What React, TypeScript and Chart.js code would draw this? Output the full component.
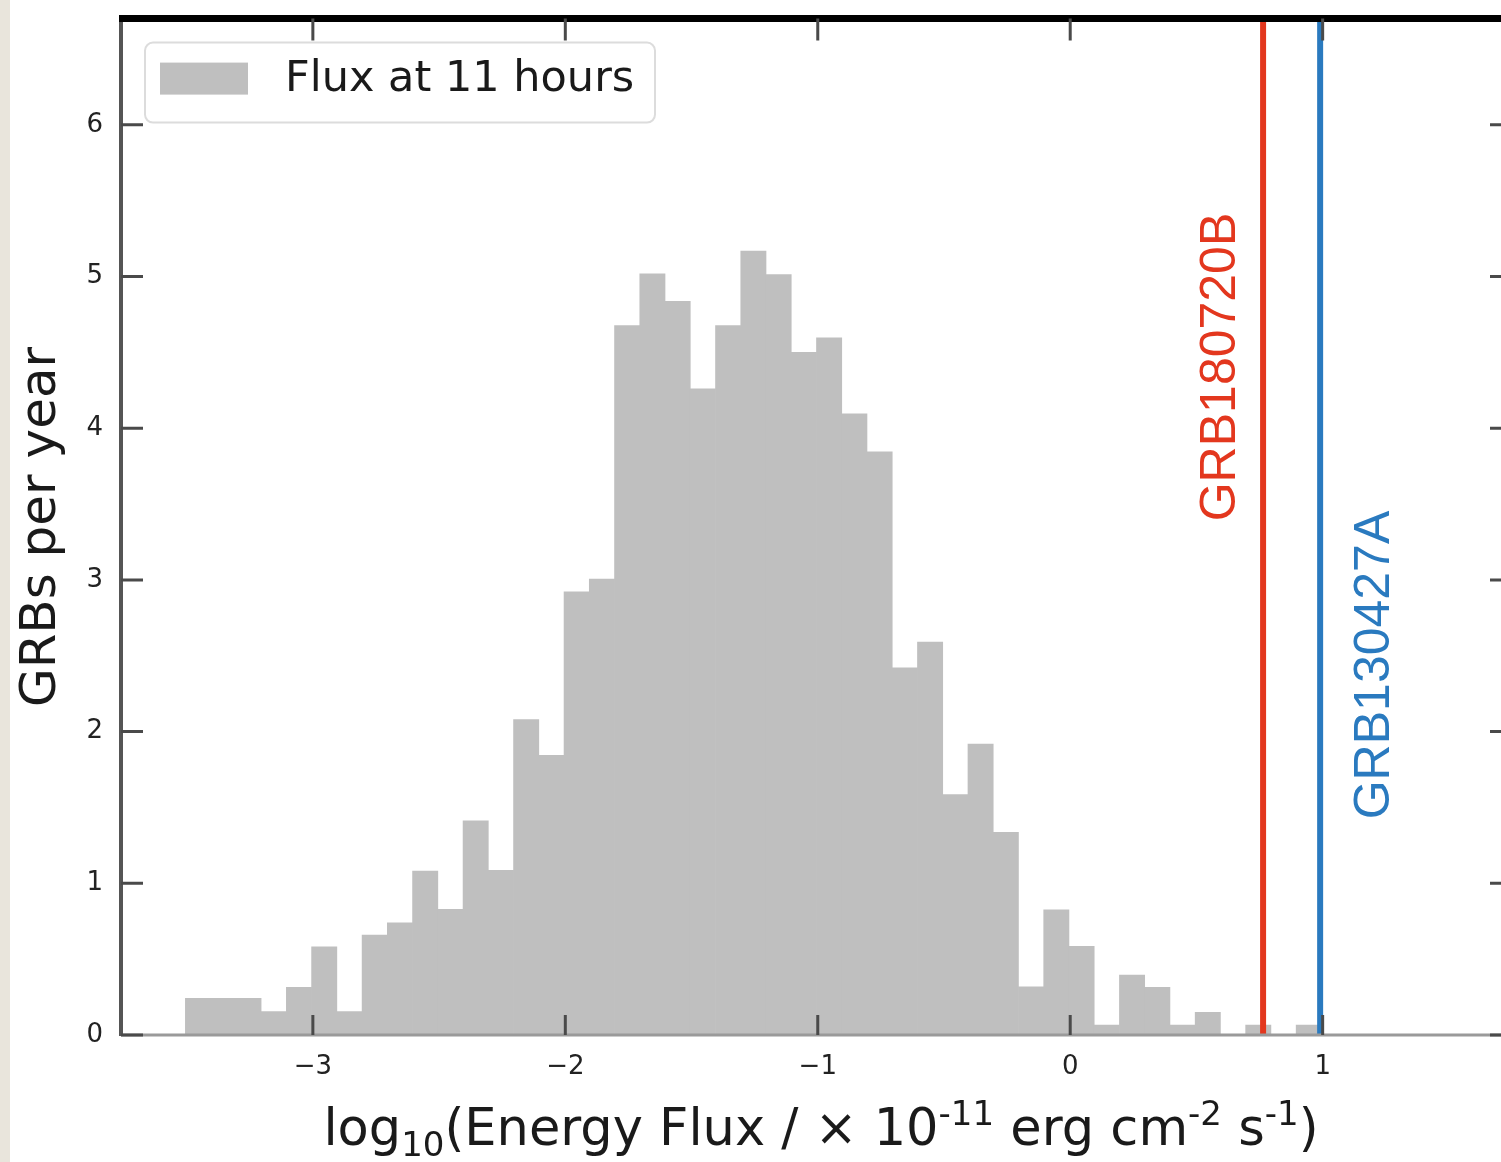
import React, { useEffect, useRef } from 'react';
import { Chart, registerables } from 'chart.js';

Chart.register(...registerables);

// Histogram bin centres (log10 energy flux, bin width 0.1)
const binCenters = [
  -3.455, -3.355, -3.255, -3.155, -3.055, -2.955, -2.855, -2.755, -2.655, -2.555,
  -2.455, -2.355, -2.255, -2.155, -2.055, -1.955, -1.855, -1.755, -1.655, -1.555,
  -1.455, -1.355, -1.255, -1.155, -1.055, -0.955, -0.855, -0.755, -0.655, -0.555,
  -0.455, -0.355, -0.255, -0.155, -0.055, 0.045, 0.145, 0.245, 0.345, 0.445,
  0.545, 0.645, 0.745, 0.845, 0.945,
];

// GRBs per year in each bin
const grbsPerYear = [
  0.242, 0.242, 0.242, 0.154, 0.314, 0.582, 0.154, 0.659, 0.740, 1.080,
  0.828, 1.412, 1.085, 2.080, 1.843, 2.921, 3.006, 4.677, 5.018, 4.837,
  4.260, 4.677, 5.167, 5.013, 4.500, 4.596, 4.095, 3.844, 2.421, 2.590,
  1.584, 1.917, 1.336, 0.318, 0.825, 0.584, 0.066, 0.395, 0.314, 0.066,
  0.150, 0.0, 0.066, 0.0, 0.066,
];

const xTickValues = [-3, -2, -1, 0, 1];
const xTickLabels = ['\u22123', '\u22122', '\u22121', '0', '1'];
const yTickValues = [0, 1, 2, 3, 4, 5, 6];
const yTickLabels = ['0', '1', '2', '3', '4', '5', '6'];

const legendLabel = 'Flux at 11 hours';
const grbNames = ['GRB180720B', 'GRB130427A'];
const grbFlux = [0.764, 0.99];
const grbColors = ['#e3371e', '#2a7abf'];

const yTitle = 'GRBs per year';

const xMin = -3.76;
const xMax = 1.75;
const yMax = 6.7;

const FONT = '"DejaVu Sans", sans-serif';

const decor = {
  id: 'decor',
  beforeDraw(chart: any) {
    const ctx = chart.ctx;
    ctx.save();
    ctx.fillStyle = '#ffffff';
    ctx.fillRect(0, 0, chart.width, chart.height);
    ctx.fillStyle = '#e9e5dc';
    ctx.fillRect(0, 0, 10, chart.height);
    ctx.restore();
  },
  afterDraw(chart: any) {
    const ctx = chart.ctx;
    const a = chart.chartArea;
    const xs = chart.scales.x;
    const ys = chart.scales.y;
    ctx.save();

    // spines
    ctx.lineCap = 'butt';
    ctx.strokeStyle = '#9a9a9a';
    ctx.lineWidth = 3;
    ctx.beginPath();
    ctx.moveTo(a.left, a.bottom);
    ctx.lineTo(a.right, a.bottom);
    ctx.stroke();

    ctx.strokeStyle = '#555';
    ctx.lineWidth = 4;
    ctx.beginPath();
    ctx.moveTo(a.left, a.top);
    ctx.lineTo(a.left, a.bottom + 1);
    ctx.stroke();

    ctx.beginPath();
    ctx.moveTo(a.right, a.top);
    ctx.lineTo(a.right, a.bottom);
    ctx.stroke();

    ctx.strokeStyle = '#000';
    ctx.lineWidth = 7;
    ctx.beginPath();
    ctx.moveTo(a.left - 2, a.top);
    ctx.lineTo(a.right, a.top);
    ctx.stroke();

    // inward ticks
    ctx.strokeStyle = '#4a4a4a';
    ctx.lineWidth = 3;
    for (const v of yTickValues) {
      const py = ys.getPixelForValue(v);
      ctx.beginPath();
      ctx.moveTo(a.left, py);
      ctx.lineTo(a.left + 22, py);
      ctx.moveTo(a.right, py);
      ctx.lineTo(a.right - 22, py);
      ctx.stroke();
    }
    for (const v of xTickValues) {
      const px = xs.getPixelForValue(v);
      ctx.beginPath();
      ctx.moveTo(px, a.bottom);
      ctx.lineTo(px, a.bottom - 20);
      ctx.moveTo(px, a.top);
      ctx.lineTo(px, a.top + 22);
      ctx.stroke();
    }

    // legend
    const lx = a.left + 24;
    const ly = a.top + 24;
    ctx.fillStyle = 'rgba(255,255,255,0.9)';
    ctx.strokeStyle = '#dcdcdc';
    ctx.lineWidth = 2;
    ctx.beginPath();
    (ctx as any).roundRect(lx, ly, 510, 80, 8);
    ctx.fill();
    ctx.stroke();
    ctx.fillStyle = '#bfbfbf';
    ctx.fillRect(lx + 15, ly + 20, 88, 32);
    ctx.fillStyle = '#1a1a1a';
    ctx.font = `43px ${FONT}`;
    ctx.textAlign = 'left';
    ctx.textBaseline = 'middle';
    ctx.fillText(legendLabel, lx + 140, ly + 37);

    // GRB labels
    ctx.font = '50px "Liberation Sans", Arial, sans-serif';
    ctx.textAlign = 'center';
    ctx.textBaseline = 'alphabetic';
    const labelOffsets = [-28, 69];
    const labelCenters = [367, 665];
    grbNames.forEach((name, i) => {
      const px = xs.getPixelForValue(grbFlux[i]);
      ctx.save();
      ctx.translate(px + labelOffsets[i], labelCenters[i]);
      ctx.rotate(-Math.PI / 2);
      ctx.fillStyle = grbColors[i];
      ctx.fillText(name, 0, 0);
      ctx.restore();
    });

    // y title
    ctx.save();
    ctx.fillStyle = '#1a1a1a';
    ctx.font = `50px ${FONT}`;
    ctx.translate(55, 527);
    ctx.rotate(-Math.PI / 2);
    ctx.textAlign = 'center';
    ctx.textBaseline = 'alphabetic';
    ctx.fillText(yTitle, 0, 0);
    ctx.restore();

    // x title with sub/superscripts
    const segs = [
      { t: 'log', s: 0 },
      { t: '10', s: 1 },
      { t: '(Energy Flux / \u00d7 10', s: 0 },
      { t: '-11', s: 2 },
      { t: ' erg cm', s: 0 },
      { t: '-2', s: 2 },
      { t: ' s', s: 0 },
      { t: '-1', s: 2 },
      { t: ')', s: 0 },
    ];
    const big = `51px ${FONT}`;
    const small = `34px ${FONT}`;
    let total = 0;
    const widths: number[] = [];
    for (const sg of segs) {
      ctx.font = sg.s === 0 ? big : small;
      const w = ctx.measureText(sg.t).width;
      widths.push(w);
      total += w;
    }
    let cx = 821 - total / 2;
    const base = 1145;
    ctx.fillStyle = '#1a1a1a';
    ctx.textAlign = 'left';
    ctx.textBaseline = 'alphabetic';
    segs.forEach((sg, i) => {
      ctx.font = sg.s === 0 ? big : small;
      const dy = sg.s === 1 ? 11 : sg.s === 2 ? -20 : 0;
      ctx.fillText(sg.t, cx, base + dy);
      cx += widths[i];
    });

    ctx.restore();
  },
};

export default function App() {
  const ref = useRef<HTMLCanvasElement | null>(null);

  useEffect(() => {
    const canvas = ref.current;
    if (!canvas) return;
    const chart = new Chart(canvas, {
      type: 'bar',
      data: {
        datasets: [
          {
            type: 'bar',
            label: legendLabel,
            data: binCenters.map((c, i) => ({ x: c, y: grbsPerYear[i] })),
            backgroundColor: '#bfbfbf',
            borderWidth: 0,
            barPercentage: 1,
            categoryPercentage: 1,
            order: 2,
          } as any,
          ...grbNames.map((n, i) => ({
            type: 'line',
            label: n,
            data: [
              { x: grbFlux[i], y: 0 },
              { x: grbFlux[i], y: yMax },
            ],
            borderColor: grbColors[i],
            backgroundColor: grbColors[i],
            borderWidth: 6,
            pointRadius: 0,
            fill: false,
            order: 1,
          } as any)),
        ],
      },
      options: {
        responsive: false,
        animation: false,
        events: [],
        layout: { padding: { left: 0, right: 4, top: 18, bottom: 0 } },
        plugins: { legend: { display: false }, tooltip: { enabled: false } },
        scales: {
          x: {
            type: 'linear',
            min: xMin,
            max: xMax,
            offset: false,
            grid: { display: false, drawTicks: false },
            border: { display: false },
            ticks: {
              stepSize: 1,
              includeBounds: false,
              autoSkip: false,
              maxRotation: 0,
              padding: 17,
              color: '#222',
              font: { family: 'DejaVu Sans', size: 26 },
              callback: (v: any) => {
                const idx = xTickValues.indexOf(Number(v));
                return idx >= 0 ? xTickLabels[idx] : '';
              },
            },
            afterFit: (s: any) => {
              s.height = 127;
            },
          },
          y: {
            type: 'linear',
            min: 0,
            max: yMax,
            grid: { display: false, drawTicks: true, tickLength: 15 },
            border: { display: false },
            ticks: {
              stepSize: 1,
              includeBounds: false,
              padding: 3,
              color: '#222',
              font: { family: 'DejaVu Sans', size: 26 },
              callback: (v: any) => {
                const idx = yTickValues.indexOf(Number(v));
                return idx >= 0 ? yTickLabels[idx] : '';
              },
            },
            afterFit: (s: any) => {
              s.width = 121;
            },
          },
        },
      } as any,
      plugins: [decor],
    });
    return () => chart.destroy();
  }, []);

  return (
    <div
      style={{
        position: 'fixed',
        left: 0,
        top: 0,
        width: 1501,
        height: 1162,
        overflow: 'hidden',
        background: '#fff',
      }}
    >
      <canvas ref={ref} width={1516} height={1162} style={{ display: 'block' }} />
    </div>
  );
}
